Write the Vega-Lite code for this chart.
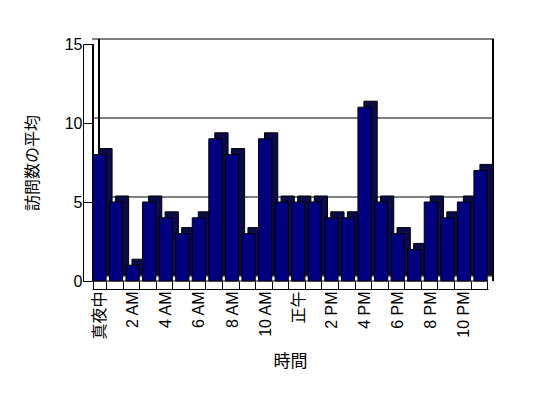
{
  "$schema": "https://vega.github.io/schema/vega-lite/v6.json",
  "width": 396,
  "height": 237,
  "autosize": "none",
  "padding": {"left": 92, "top": 44, "right": 60, "bottom": 117},
  "background": "white",
  "config": {
    "view": {"stroke": null},
    "font": "Liberation Sans, Noto Sans CJK JP",
    "axis": {"labelFont": "Liberation Sans, Noto Sans CJK JP", "titleFont": "Noto Sans CJK JP", "labelColor": "black", "titleColor": "black", "domainColor": "black", "tickColor": "black", "titleFontWeight": "normal"}
  },
  "data": {"values": [
    {"h": 0, "v": 8}, {"h": 1, "v": 5}, {"h": 2, "v": 1}, {"h": 3, "v": 5},
    {"h": 4, "v": 4}, {"h": 5, "v": 3}, {"h": 6, "v": 4}, {"h": 7, "v": 9},
    {"h": 8, "v": 8}, {"h": 9, "v": 3}, {"h": 10, "v": 9}, {"h": 11, "v": 5},
    {"h": 12, "v": 5}, {"h": 13, "v": 5}, {"h": 14, "v": 4}, {"h": 15, "v": 4},
    {"h": 16, "v": 11}, {"h": 17, "v": 5}, {"h": 18, "v": 3}, {"h": 19, "v": 2},
    {"h": 20, "v": 5}, {"h": 21, "v": 4}, {"h": 22, "v": 5}, {"h": 23, "v": 7}
  ]},
  "encoding": {
    "x": {
      "field": "h", "type": "ordinal",
      "scale": {"paddingInner": 0.2, "paddingOuter": 0.05},
      "axis": {
        "title": "時間", "titleFontSize": 17, "titlePadding": 14,
        "labelAngle": 270, "labelFontSize": 16, "labelPadding": 10,
        "offset": 8, "tickSize": -8, "tickBand": "extent",
        "labelExpr": "['真夜中','','2 AM','','4 AM','','6 AM','','8 AM','','10 AM','','正午','','2 PM','','4 PM','','6 PM','','8 PM','','10 PM',''][datum.value]"
      }
    },
    "y": {
      "field": "v", "type": "quantitative",
      "scale": {"domain": [0, 15]},
      "axis": {
        "title": "訪問数の平均", "titleFontSize": 16, "titlePadding": 24,
        "values": [0, 5, 10, 15], "labelFontSize": 16, "labelPadding": 10,
        "offset": 9, "tickSize": -9, "grid": false
      }
    }
  },
  "layer": [
    {
      "data": {"values": [{"g": 0}, {"g": 5}, {"g": 10}, {"g": 15}]},
      "mark": {"type": "rule", "color": "black", "strokeWidth": 1, "xOffset": 6, "yOffset": -5},
      "encoding": {"x": null, "y": {"field": "g", "type": "quantitative"}}
    },
    {
      "mark": {"type": "rule", "color": "black", "strokeWidth": 1, "xOffset": 6, "yOffset": -5},
      "encoding": {"x": {"datum": 0, "type": "ordinal", "bandPosition": 0}, "y": null}
    },
    {
      "mark": {"type": "rule", "color": "black", "strokeWidth": 1, "xOffset": 6, "yOffset": -5},
      "encoding": {"x": {"datum": 23, "type": "ordinal", "bandPosition": 1}, "y": null}
    },
    {
      "mark": {"type": "rule", "color": "black", "strokeWidth": 1},
      "encoding": {"x": {"datum": 0, "type": "ordinal", "bandPosition": 0}, "y": null}
    },
    {
      "data": {"values": [{"g": 0}]},
      "mark": {"type": "rule", "color": "black", "strokeWidth": 1},
      "encoding": {"x": null, "y": {"field": "g", "type": "quantitative"}}
    },
    {
      "mark": {"type": "bar", "color": "#0b0b48", "stroke": "black", "strokeWidth": 1, "xOffset": 6, "yOffset": -6}
    },
    {
      "mark": {"type": "bar", "color": "#000080", "stroke": "black", "strokeWidth": 1}
    }
  ]
}
